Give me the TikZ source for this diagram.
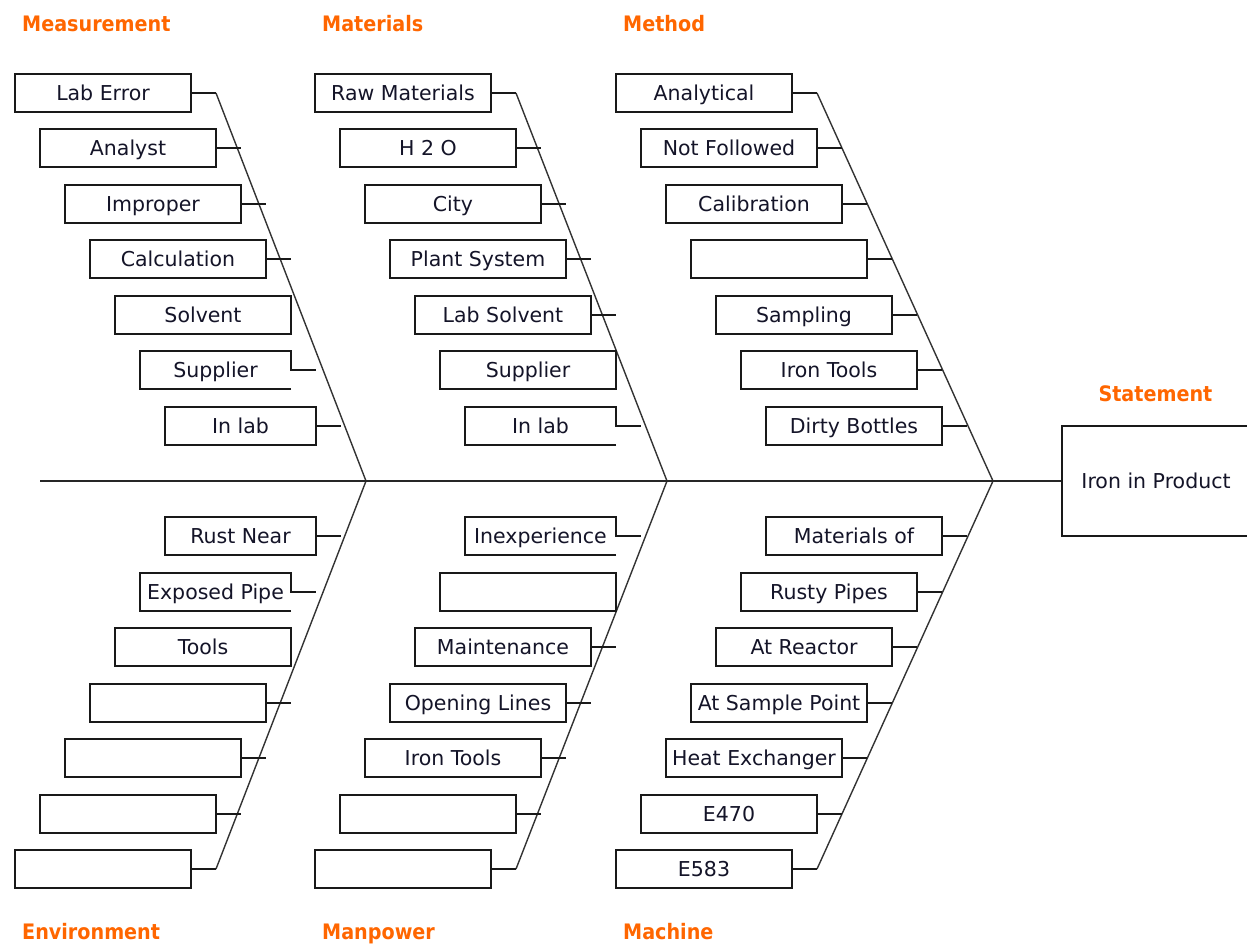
\documentclass[tikz,border=0pt]{standalone}
\usepackage{fontspec}
\setmainfont{DejaVu Sans}
\newfontfamily\headfont{DejaVu Sans Condensed}
\definecolor{orng}{RGB}{255,102,0}
\definecolor{inkc}{RGB}{20,20,40}
\newcommand\fbx[6]{\node[fbbox,minimum width=#4pt,#6] (#1) at ({#2+#4/2},{#3+19}) {#5};}
\newcommand\fcn[1]{\draw[conn] (#1.east) -- ++(25,0);}
\newcommand\fpart[1]{\draw[conn] (#1.south east) -- (#1.south west) -- (#1.north west) -- (#1.north east) -- (#1.east) -- ++(25,0);}
\begin{document}
\begin{tikzpicture}[x=1pt,y=-1pt,
 fbbox/.style={draw=black!90, line width=2pt, fill=white, minimum height=38pt, inner sep=0pt, outer sep=0pt, text height=15pt, text depth=1pt, text=inkc, font=\fontsize{20.5}{24}\selectfont},
 conn/.style={line width=2pt, draw=black!90},
 bone/.style={line width=1.4pt, draw=black!80},
 spine/.style={line width=2pt, draw=black!85},
 heading/.style={anchor=base west, inner sep=0pt, text=orng, font=\headfont\bfseries\fontsize{21.3}{24}\selectfont}]
\useasboundingbox (0,0) rectangle (1247,943);
% joints on spine
\coordinate (jt1) at (366,481);
\coordinate (jt2) at (667,481);
\coordinate (jt3) at (993,481);
\coordinate (tail) at (40,481);
\coordinate (hdl) at (1062,481);
% headings
\node[heading] (hme) at (22,31.7) {Measurement};
\node[heading] (hmt) at (322,31.7) {Materials};
\node[heading] (hmh) at (623,31.7) {Method};
\node[heading] (hst) at (1098.3,401.7) {Statement};
\node[heading] (hen) at (22,939) {Environment};
\node[heading] (hma) at (322,939) {Manpower};
\node[heading] (hmc) at (623,939) {Machine};
% bones (drawn first)
\coordinate (me1c) at (216,93);
\coordinate (mt1c) at (516,93);
\coordinate (mh1c) at (817,93);
\coordinate (en7c) at (216,869);
\coordinate (ma7c) at (516,869);
\coordinate (mc7c) at (817,869);
\draw[bone] (me1c) -- (jt1) -- (en7c);
\draw[bone] (mt1c) -- (jt2) -- (ma7c);
\draw[bone] (mh1c) -- (jt3) -- (mc7c);
% spine and head
\draw[spine] (tail) -- (hdl);
\draw[conn] (1262,426) -| (1062,536) -- (1262,536);
\node[inner sep=0pt, text height=15pt, text depth=1pt, text=inkc, font=\fontsize{20.5}{24}\selectfont] (head) at (1156,481) {Iron in Product};
% Measurement
\fbx{me1}{15}{74}{176}{Lab Error}{}
\fbx{me2}{40}{129}{176}{Analyst}{}
\fbx{me3}{65}{185}{176}{Improper}{}
\fbx{me4}{90}{240}{176}{Calculation}{}
\fbx{me5}{115}{296}{176}{Solvent}{}
\fbx{me6}{140}{351}{151}{Supplier}{draw=none}
\fbx{me7}{165}{407}{151}{In lab}{}
\draw[conn] (me1.east) -- (me1c);
\fcn{me2}\fcn{me3}\fcn{me4}\fpart{me6}\fcn{me7}
% Materials
\fbx{mt1}{315}{74}{176}{Raw Materials}{}
\fbx{mt2}{340}{129}{176}{H 2 O}{}
\fbx{mt3}{365}{185}{176}{City}{}
\fbx{mt4}{390}{240}{176}{Plant System}{}
\fbx{mt5}{415}{296}{176}{Lab Solvent}{}
\fbx{mt6}{440}{351}{176}{Supplier}{}
\fbx{mt7}{465}{407}{151}{In lab}{draw=none}
\draw[conn] (mt1.east) -- (mt1c);
\fcn{mt2}\fcn{mt3}\fcn{mt4}\fcn{mt5}\fpart{mt7}
% Method
\fbx{mh1}{616}{74}{176}{Analytical}{}
\fbx{mh2}{641}{129}{176}{Not Followed}{}
\fbx{mh3}{666}{185}{176}{Calibration}{}
\fbx{mh4}{691}{240}{176}{}{}
\fbx{mh5}{716}{296}{176}{Sampling}{}
\fbx{mh6}{741}{351}{176}{Iron Tools}{}
\fbx{mh7}{766}{407}{176}{Dirty Bottles}{}
\draw[conn] (mh1.east) -- (mh1c);
\fcn{mh2}\fcn{mh3}\fcn{mh4}\fcn{mh5}\fcn{mh6}\fcn{mh7}
% Environment
\fbx{en1}{165}{517}{151}{Rust Near}{}
\fbx{en2}{140}{573}{151}{Exposed Pipe}{draw=none}
\fbx{en3}{115}{628}{176}{Tools}{}
\fbx{en4}{90}{684}{176}{}{}
\fbx{en5}{65}{739}{176}{}{}
\fbx{en6}{40}{795}{176}{}{}
\fbx{en7}{15}{850}{176}{}{}
\fcn{en1}\fpart{en2}\fcn{en4}\fcn{en5}\fcn{en6}
\draw[conn] (en7.east) -- (en7c);
% Manpower
\fbx{ma1}{465}{517}{151}{Inexperience}{draw=none}
\fbx{ma2}{440}{573}{176}{}{}
\fbx{ma3}{415}{628}{176}{Maintenance}{}
\fbx{ma4}{390}{684}{176}{Opening Lines}{}
\fbx{ma5}{365}{739}{176}{Iron Tools}{}
\fbx{ma6}{340}{795}{176}{}{}
\fbx{ma7}{315}{850}{176}{}{}
\fpart{ma1}\fcn{ma3}\fcn{ma4}\fcn{ma5}\fcn{ma6}
\draw[conn] (ma7.east) -- (ma7c);
% Machine
\fbx{mc1}{766}{517}{176}{Materials of}{}
\fbx{mc2}{741}{573}{176}{Rusty Pipes}{}
\fbx{mc3}{716}{628}{176}{At Reactor}{}
\fbx{mc4}{691}{684}{176}{At Sample Point}{}
\fbx{mc5}{666}{739}{176}{Heat Exchanger}{}
\fbx{mc6}{641}{795}{176}{E470}{}
\fbx{mc7}{616}{850}{176}{E583}{}
\fcn{mc1}\fcn{mc2}\fcn{mc3}\fcn{mc4}\fcn{mc5}\fcn{mc6}
\draw[conn] (mc7.east) -- (mc7c);
\end{tikzpicture}
\end{document}
